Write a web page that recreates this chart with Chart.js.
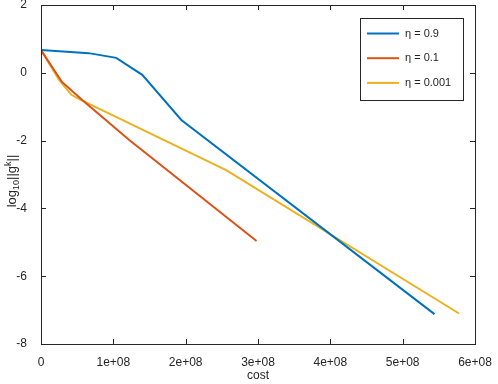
<!DOCTYPE html>
<html>
<head>
<meta charset="utf-8">
<script src="https://cdn.jsdelivr.net/npm/chart.js@4"></script>
<style>
  html, body { margin: 0; padding: 0; background: #fff; }
  #wrap { width: 498px; height: 384px; }
</style>
</head>
<body>
<div id="wrap"><canvas id="costChart" width="498" height="384"></canvas></div>
<script>
// values
const etaLabels = ['η = 0.9', 'η = 0.1', 'η = 0.001'];
const lineColors = ['#0072BD', '#D95319', '#EDB120'];

const costBlue = [0, 0.66e8, 1.04e8, 1.40e8, 1.94e8, 5.44e8];
const logBlue  = [0.67, 0.58, 0.44, -0.06, -1.39, -7.12];

const costRed = [0, 0.29e8, 0.57e8, 1.22e8, 2.98e8];
const logRed  = [0.67, -0.27, -0.80, -1.98, -4.96];

const costYellow = [0, 0.25e8, 0.42e8, 0.55e8, 2.56e8, 5.78e8];
const logYellow  = [0.67, -0.21, -0.65, -0.80, -2.87, -7.10];

const xTicks = [0, 1e8, 2e8, 3e8, 4e8, 5e8, 6e8];
const yTicks = [-8, -6, -4, -2, 0, 2];

const txtColor = '#262626';
const fontFam = '"Liberation Sans", Arial, sans-serif';

const pts = (xs, ys) => xs.map((x, i) => ({ x: x, y: ys[i] }));

// box, inward ticks, axis titles and legend, matlab style
const matlabFrame = {
  id: 'matlabFrame',
  afterDraw(chart) {
    const ctx = chart.ctx, a = chart.chartArea;
    const xs = chart.scales.x, ys = chart.scales.y;
    ctx.save();
    ctx.strokeStyle = txtColor;
    ctx.lineWidth = 1;
    ctx.strokeRect(Math.round(a.left) + 0.5, Math.round(a.top) + 0.5,
      Math.round(a.right - a.left), Math.round(a.bottom - a.top));
    ctx.beginPath();
    xTicks.forEach(v => {
      const px = Math.round(xs.getPixelForValue(v)) + 0.5;
      ctx.moveTo(px, a.bottom); ctx.lineTo(px, a.bottom - 5);
      ctx.moveTo(px, a.top); ctx.lineTo(px, a.top + 5);
    });
    yTicks.forEach(v => {
      const py = Math.round(ys.getPixelForValue(v)) + 0.5;
      ctx.moveTo(a.left, py); ctx.lineTo(a.left + 5, py);
      ctx.moveTo(a.right, py); ctx.lineTo(a.right - 5, py);
    });
    ctx.stroke();

    // x title
    ctx.fillStyle = txtColor;
    ctx.font = '12px ' + fontFam;
    ctx.textAlign = 'center';
    ctx.textBaseline = 'middle';
    ctx.fillText('cost', (a.left + a.right) / 2, 376);

    // y title with sub / superscript
    ctx.translate(11, 181);
    ctx.rotate(-Math.PI / 2);
    const parts = [['log', 13, 0], ['10', 9, 3], ['||g', 13, 0], ['k', 9, -5], ['||', 13, 0]];
    let w = 0;
    parts.forEach(p => { ctx.font = p[1] + 'px ' + fontFam; w += ctx.measureText(p[0]).width; });
    let cx = -w / 2;
    ctx.textAlign = 'left';
    ctx.textBaseline = 'alphabetic';
    parts.forEach(p => {
      ctx.font = p[1] + 'px ' + fontFam;
      ctx.fillText(p[0], cx, 5 + p[2]);
      cx += ctx.measureText(p[0]).width;
    });
    ctx.setTransform(1, 0, 0, 1, 0, 0);

    // legend
    const lx = 360, ly = 18, lw = 103, lh = 82;
    ctx.fillStyle = '#fff';
    ctx.fillRect(lx, ly, lw, lh);
    ctx.strokeStyle = txtColor;
    ctx.strokeRect(lx + 0.5, ly + 0.5, lw, lh);
    ctx.font = '11px ' + fontFam;
    ctx.textBaseline = 'middle';
    chart.data.datasets.forEach((ds, i) => {
      const y = 33.5 + i * 24.7;
      ctx.strokeStyle = ds.borderColor;
      ctx.lineWidth = 2;
      ctx.beginPath();
      ctx.moveTo(367, y); ctx.lineTo(399, y);
      ctx.stroke();
      ctx.fillStyle = txtColor;
      ctx.fillText(ds.label, 405, y);
    });
    ctx.restore();
  }
};

const mkSet = (i, xs, ys) => ({
  label: etaLabels[i],
  data: pts(xs, ys),
  borderColor: lineColors[i],
  backgroundColor: lineColors[i],
  borderWidth: 2,
  pointRadius: 0,
  tension: 0,
  fill: false
});

new Chart(document.getElementById('costChart'), {
  type: 'line',
  data: {
    datasets: [
      mkSet(0, costBlue, logBlue),
      mkSet(1, costRed, logRed),
      mkSet(2, costYellow, logYellow)
    ]
  },
  options: {
    responsive: false,
    animation: false,
    layout: { padding: { left: 0, right: 23, top: 5, bottom: 0 } },
    plugins: { legend: { display: false }, tooltip: { enabled: false } },
    scales: {
      x: {
        type: 'linear',
        min: 0, max: 6e8,
        grid: { display: false },
        border: { display: false },
        afterFit: s => { s.height = 40; s.paddingLeft = 0; s.paddingRight = 0; },
        afterBuildTicks: s => { s.ticks = xTicks.map(v => ({ value: v })); },
        ticks: {
          color: txtColor,
          font: { family: fontFam, size: 12 },
          padding: 3,
          maxRotation: 0,
          callback: v => v === 0 ? '0' : (v / 1e8) + 'e+08'
        }
      },
      y: {
        type: 'linear',
        min: -8, max: 2,
        grid: { display: false },
        border: { display: false },
        afterFit: s => { s.width = 41; s.paddingTop = 0; s.paddingBottom = 0; },
        afterBuildTicks: s => { s.ticks = yTicks.map(v => ({ value: v })); },
        ticks: {
          color: txtColor,
          font: { family: fontFam, size: 12 },
          padding: 6
        }
      }
    }
  },
  plugins: [matlabFrame]
});
</script>
</body>
</html>
